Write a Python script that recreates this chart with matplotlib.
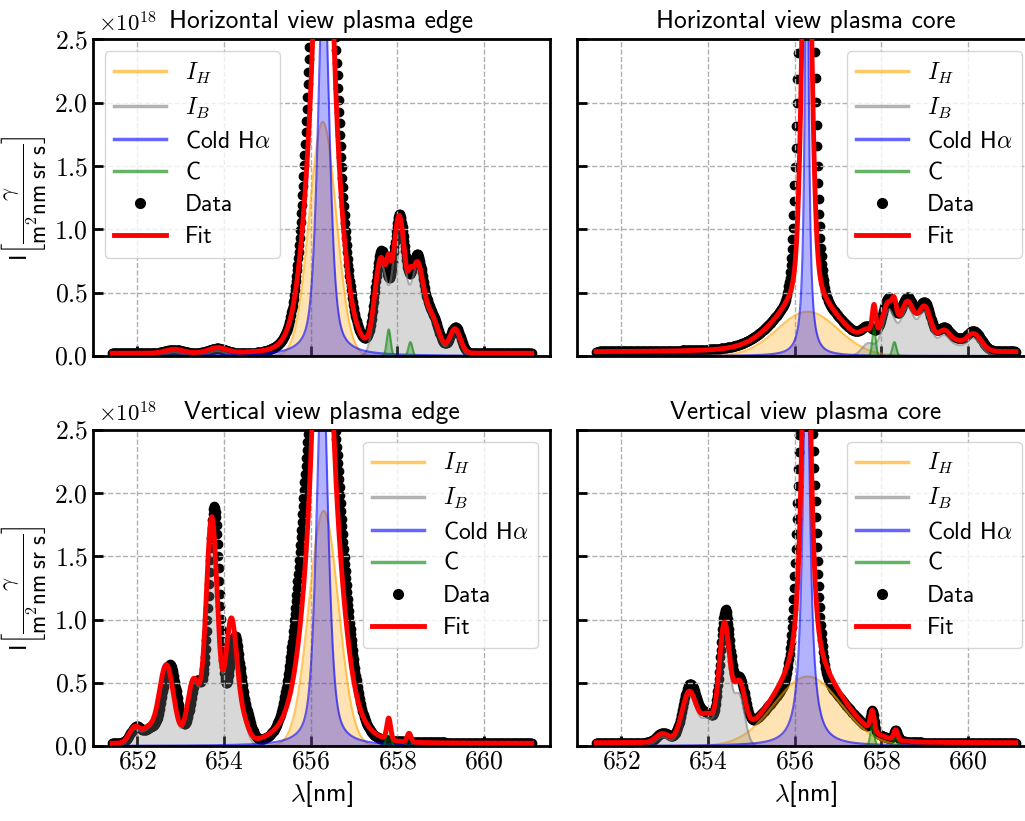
import numpy as np
import matplotlib
matplotlib.use("Agg")
import matplotlib.pyplot as plt
from matplotlib.lines import Line2D

plt.rcParams.update({
    "font.family": "cmss10",
    "mathtext.fontset": "cm",
    "axes.formatter.use_mathtext": True,
    "axes.unicode_minus": False,
    "font.size": 16,
})

# ==================== DATA ====================
# every peak: (centre [nm], height [1e18], width [nm], lorentz fraction)
titles = ["Horizontal view plasma edge", "Horizontal view plasma core",
          "Vertical view plasma edge", "Vertical view plasma core"]
x_ticks = [652, 654, 656, 658, 660]
y_ticks = [0.0, 0.5, 1.0, 1.5, 2.0, 2.5]
lam_range = (651.42, 661.1)
carbon_range = (657.4, 659.1)

# horizontal view, edge
he_ih = [(656.28, 1.85, 0.31, 0)]
he_cold = [(656.30, 3.2, 0.14, 0.6)]
he_ib = [(652.85, 0.03, 0.2, 0), (653.85, 0.04, 0.2, 0), (657.62, 0.72, 0.14, 0),
         (658.04, 1.06, 0.14, 0), (658.45, 0.66, 0.14, 0), (658.78, 0.28, 0.17, 0),
         (659.33, 0.19, 0.12, 0)]
he_c = [(657.80, 0.21, 0.045, 0), (658.30, 0.11, 0.045, 0)]
he_fit_extra = [(656.28, 0.45, 0.45, 0)]
he_data = [(656.28, 3.7, 0.29, 0), (656.30, 0.4, 0.55, 0),
           (652.85, 0.03, 0.2, 0), (653.85, 0.04, 0.2, 0), (657.63, 0.78, 0.14, 0),
           (658.05, 1.08, 0.14, 0), (658.45, 0.72, 0.14, 0), (658.78, 0.30, 0.17, 0),
           (659.34, 0.21, 0.12, 0)]
he_base = 0.02

# horizontal view, core
hc_ih = [(656.30, 0.35, 0.7, 0)]
hc_cold = [(656.28, 4.0, 0.05, 1)]
hc_ib = [(657.70, 0.10, 0.15, 0), (658.17, 0.36, 0.15, 0), (658.60, 0.37, 0.15, 0),
         (659.00, 0.34, 0.15, 0), (659.45, 0.16, 0.15, 0), (659.75, 0.05, 0.12, 0),
         (660.12, 0.14, 0.18, 0)]
hc_c = [(657.83, 0.22, 0.04, 0), (658.30, 0.11, 0.045, 0)]
hc_fit_extra = [(656.28, 2.2, 0.11, 0), (656.28, 0.22, 0.25, 1), (656.28, 0.04, 1.5, 1)]
hc_data = [(656.27, 4.4, 0.15, 0), (656.27, 0.25, 0.3, 1), (656.30, 0.35, 0.7, 0),
           (656.28, 0.05, 1.5, 1),
           (657.70, 0.12, 0.15, 0), (658.17, 0.39, 0.15, 0), (658.60, 0.40, 0.15, 0),
           (659.00, 0.37, 0.15, 0), (659.45, 0.18, 0.15, 0), (659.75, 0.06, 0.12, 0),
           (660.12, 0.16, 0.18, 0)]
hc_base = 0.03

# vertical view, edge
ve_ih = [(656.30, 1.86, 0.34, 0)]
ve_cold = [(656.27, 3.2, 0.14, 0.6)]
ve_ib = [(651.95, 0.13, 0.13, 0), (652.25, 0.10, 0.12, 0), (652.67, 0.62, 0.17, 0),
         (653.30, 0.50, 0.14, 0), (653.72, 1.78, 0.13, 0), (654.17, 0.97, 0.13, 0),
         (654.45, 0.15, 0.12, 0)]
ve_c = [(657.80, 0.17, 0.045, 0), (658.27, 0.07, 0.045, 0)]
ve_fit_extra = [(656.27, 0.40, 0.6, 0)]
ve_data = [(656.26, 3.3, 0.40, 0), (656.27, 0.10, 0.8, 1),
           (651.98, 0.13, 0.13, 0), (652.30, 0.10, 0.12, 0), (652.75, 0.62, 0.17, 0),
           (653.37, 0.48, 0.14, 0), (653.78, 1.86, 0.13, 0), (654.25, 0.82, 0.13, 0),
           (654.52, 0.18, 0.12, 0)]
ve_base = 0.02

# vertical view, core
vc_ih = [(656.30, 0.55, 0.77, 0)]
vc_cold = [(656.27, 3.44, 0.095, 1)]
vc_ib = [(652.95, 0.07, 0.15, 0), (653.57, 0.40, 0.17, 0), (654.00, 0.20, 0.15, 0),
         (654.38, 0.90, 0.12, 0), (654.72, 0.40, 0.13, 0)]
vc_c = [(657.79, 0.16, 0.045, 0), (658.33, 0.08, 0.045, 0)]
vc_fit_extra = [(656.27, 0.5, 0.12, 0)]
vc_data = [(656.27, 3.0, 0.17, 0), (656.30, 0.55, 0.8, 0),
           (652.97, 0.08, 0.15, 0), (653.59, 0.46, 0.17, 0), (654.00, 0.20, 0.15, 0),
           (654.40, 1.00, 0.12, 0), (654.73, 0.42, 0.13, 0), (657.79, 0.16, 0.045, 0),
           (658.33, 0.08, 0.045, 0)]
vc_base = 0.025

panels = [
    (he_ih, he_ib, he_cold, he_c, he_fit_extra, he_data, he_base),
    (hc_ih, hc_ib, hc_cold, hc_c, hc_fit_extra, hc_data, hc_base),
    (ve_ih, ve_ib, ve_cold, ve_c, ve_fit_extra, ve_data, ve_base),
    (vc_ih, vc_ib, vc_cold, vc_c, vc_fit_extra, vc_data, vc_base),
]


def profile(x, peaks):
    y = np.zeros_like(x)
    for c, a, w, eta in peaks:
        u = (x - c) / w
        y += a * ((1 - eta) * np.exp(-0.5 * u ** 2) + eta / (1 + u ** 2))
    return y


# ==================== PLOT ====================
fig = plt.figure(figsize=(10.25, 8.21), dpi=100)
positions = [
    [0.0907, 0.5664, 0.4459, 0.3855],
    [0.5629, 0.5664, 0.4459, 0.3855],
    [0.0907, 0.0914, 0.4459, 0.3849],
    [0.5629, 0.0914, 0.4459, 0.3849],
]

x = np.linspace(lam_range[0], lam_range[1], 2500)
x_c = np.linspace(carbon_range[0], carbon_range[1], 500)
x_d = np.arange(lam_range[0], lam_range[1], 0.0125)

comp_style = [("orange", r"$I_H$"), ("gray", r"$I_B$"),
              ("blue", r"Cold H$\alpha$"), ("green", "C")]

for i, (ih, ib, cold, carb, extra, dat, base) in enumerate(panels):
    ax = fig.add_axes(positions[i])

    y_ih = profile(x, ih)
    y_ib = profile(x, ib)
    y_cold = profile(x, cold)
    y_c = profile(x_c, carb)
    y_fit = base + y_ih + y_ib + y_cold + profile(x, carb) + profile(x, extra)
    y_data = base + profile(x_d, dat)

    ax.plot(x_d, y_data, "o", color="black", ms=6, zorder=1)
    for (col, _), xx, yy in zip(comp_style, [x, x, x, x_c], [y_ih, y_ib, y_cold, y_c]):
        ax.fill_between(xx, 0, yy, color=col, alpha=0.3, lw=0, zorder=2)
        ax.plot(xx, yy, color=col, alpha=0.6, lw=1.5, zorder=2)
    ax.plot(x, y_fit, color="red", lw=3.5, zorder=3)

    ax.set_xlim(650.98, 661.52)
    ax.set_ylim(0, 2.5)
    ax.set_xticks(x_ticks)
    ax.set_yticks(y_ticks)
    ax.set_xticklabels([f"${v}$" for v in x_ticks])
    ax.set_yticklabels([f"${v:.1f}$" for v in y_ticks])
    ax.grid(True, ls="--", color="#b0b0b0", lw=1)
    ax.tick_params(direction="in", length=7, width=2, labelsize=18.5)
    for sp in ax.spines.values():
        sp.set_linewidth(2)
    ax.set_title(titles[i], fontsize=18.3, pad=8)

    if i % 2 == 0:
        ax.set_ylabel(r"I$\left[\dfrac{\gamma}{\mathsf{m}^2\mathsf{nm\ sr\ s}}\right]$",
                      fontsize=16.5, labelpad=4)
        ax.text(0.01, 1.01, r"$\times10^{18}$", transform=ax.transAxes,
                ha="left", va="bottom", fontsize=16.5)
    else:
        ax.tick_params(labelleft=False)
    if i < 2:
        ax.tick_params(labelbottom=False)
    else:
        ax.set_xlabel(r"$\lambda$[nm]", fontsize=18.5)

    handles = [Line2D([], [], color=col, alpha=0.6, lw=2.5, label=lab) for col, lab in comp_style]
    handles.append(Line2D([], [], color="black", marker="o", ls="none", ms=7, label="Data"))
    handles.append(Line2D([], [], color="red", lw=3.5, label="Fit"))
    ax.legend(handles=handles, loc="upper left" if i == 0 else "upper right",
              fontsize=17, handlelength=2.2, numpoints=1, labelspacing=0.42)

fig.savefig("out.png", dpi=100)
